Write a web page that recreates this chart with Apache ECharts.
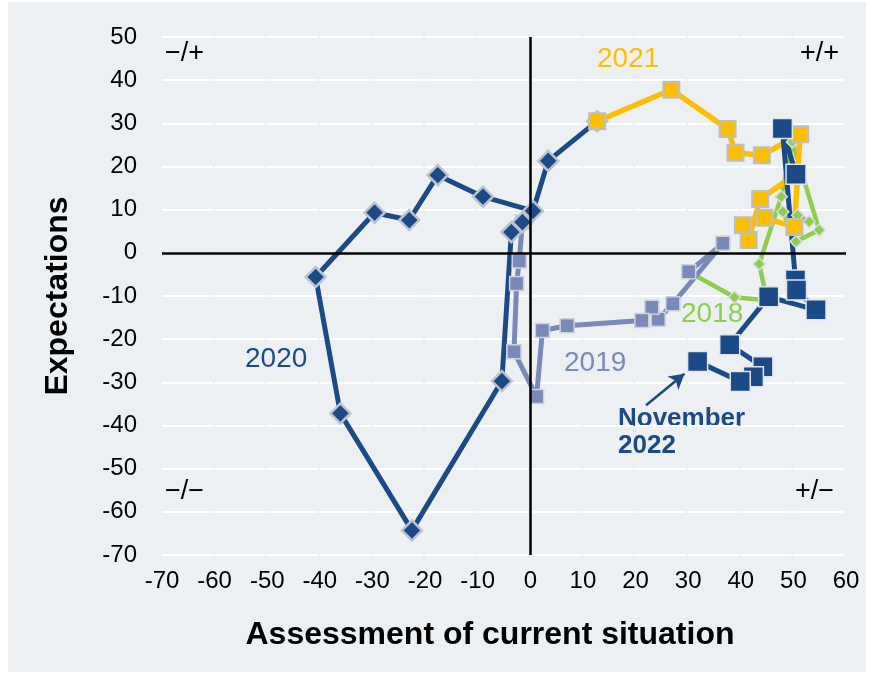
<!DOCTYPE html>
<html><head><meta charset="utf-8">
<script src="https://cdn.jsdelivr.net/npm/echarts@6/dist/echarts.min.js"></script>
<style>
html,body{margin:0;padding:0;background:#ffffff;}
#bg{position:absolute;left:8px;top:2px;width:858px;height:670px;background:#edf0f3;}
#c{position:absolute;left:0;top:0;width:873px;height:677px;}
</style>
</head><body><div id="bg"></div><div id="c"></div>
<script>
// Axis ranges / ticks
const xMin = -70, xMax = 60, xStep = 10;
const yMin = -70, yMax = 50, yStep = 10;

// [assessment of current situation, expectations]
const s2018 = [[53.0,7.2],[50.8,8.7],[48.0,9.5],[50.5,2.6],[54.9,5.3],[49.8,25.7],[47.7,13.0],[43.5,-2.6],[45.0,-11.0],[38.8,-10.3],[30.1,-4.4]];
const s2019 = [[30.1,-4.4],[36.6,2.2],[27.1,-11.8],[24.3,-15.4],[23.1,-12.6],[21.2,-15.7],[7.0,-16.9],[2.3,-18.0],[1.2,-33.3],[-3.1,-22.9],[-2.6,-7.1],[-2.1,-1.9],[-1.5,7.1]];
const s2020 = [[-1.5,7.1],[-3.6,4.8],[-5.4,-29.7],[-22.5,-64.3],[-36.1,-37.2],[-40.8,-5.6],[-29.6,9.3],[-23.0,7.6],[-17.6,18.0],[-9.0,13.0],[0.5,9.7],[3.4,21.3],[12.7,30.5]];
const s2021 = [[12.7,30.5],[26.8,37.8],[37.5,28.7],[39.0,23.2],[44.0,22.6],[51.3,27.5],[50.2,6.0],[44.5,8.1],[40.4,6.4],[41.5,3.0],[43.7,12.5],[50.5,18.2]];
const s2022 = [[50.5,18.2],[47.9,28.8],[50.4,-6.3],[50.6,-8.6],[54.3,-13.2],[45.3,-10.2],[37.9,-21.3],[44.2,-26.4],[42.4,-28.7],[39.9,-29.8],[31.8,-25.2]];
// Arrow pointing to November 2022 (data coordinates)
const arrowFrom = [22.0,-35.3], arrowTo = [29.3,-28.0];

const FONT = '"Liberation Sans", Arial, sans-serif';
const DARK = '#1b4a87', YEL = '#fcbf00', PUR = '#7b89b9', GRN = '#8fcd4c';

const chart = echarts.init(document.getElementById('c'), null, {renderer:'canvas'});

function lineSeries(name, data, color, width, symbol, size, border, bw){
  return {
    name, type:'line', data, animation:false,
    symbol, symbolSize:size,
    lineStyle:{color, width},
    itemStyle:{color, borderColor:border, borderWidth:bw},
    emphasis:{disabled:true}
  };
}

chart.setOption({
  animation:false,
  backgroundColor:'transparent',
  textStyle:{fontFamily:FONT},
  grid:{left:162, top:37, width:684, height:518},
  xAxis:{
    type:'value', min:xMin, max:xMax, interval:xStep,
    axisLine:{show:false}, axisTick:{show:false}, splitLine:{show:false},
    axisLabel:{color:'#000', fontSize:24, fontFamily:FONT, margin:14},
    name:'Assessment of current situation', nameLocation:'middle', nameGap:64,
    nameTextStyle:{color:'#000', fontSize:32, fontWeight:'bold', fontFamily:FONT, padding:[0,28,0,0]}
  },
  yAxis:{
    type:'value', min:yMin, max:yMax, interval:yStep,
    axisLine:{show:false}, axisTick:{show:false},
    splitLine:{show:true, lineStyle:{color:'#ffffff', width:2, type:[50.6,2.0]}},
    axisLabel:{color:'#000', fontSize:24, fontFamily:FONT, margin:25},
    name:'Expectations', nameLocation:'middle', nameGap:88, nameRotate:90,
    nameTextStyle:{color:'#000', fontSize:32, fontWeight:'bold', fontFamily:FONT}
  },
  series:[
    {type:'line', data:[], silent:true,
     markLine:{silent:true, symbol:['none','none'], animation:false,
       label:{show:false},
       lineStyle:{color:'#000', width:2.5, type:'solid'},
       emphasis:{disabled:true},
       data:[{xAxis:0},{yAxis:0}]}},
    lineSeries('2018', s2018, GRN, 4.5, 'diamond', 12, '#d5dbe3', 1.5),
    lineSeries('2019', s2019, PUR, 5, 'rect', 14, '#cdd3de', 1.5),
    lineSeries('2020', s2020, DARK, 5, 'diamond', 20, '#bcc3cf', 2.5),
    lineSeries('2021', s2021, YEL, 5.5, 'rect', 16, '#b9c0cd', 2),
    Object.assign(lineSeries('2022', s2022, DARK, 5, 'rect', 20, '#dfe5ec', 1.5), {
      markLine:{silent:true, animation:false, symbol:['none','arrow'], symbolSize:[13,15],
        label:{show:false}, lineStyle:{color:DARK, width:2.5, type:'solid'},
        emphasis:{disabled:true},
        data:[[{coord:arrowFrom},{coord:arrowTo}]]}
    })
  ],
  graphic:[
    {type:'text', left:165, top:40, style:{text:'\u2212/+', font:'27px '+FONT, fill:'#000'}},
    {type:'text', left:800, top:40, style:{text:'+/+', font:'27px '+FONT, fill:'#000'}},
    {type:'text', left:165, top:478, style:{text:'\u2212/\u2212', font:'27px '+FONT, fill:'#000'}},
    {type:'text', left:795, top:478, style:{text:'+/\u2212', font:'27px '+FONT, fill:'#000'}},
    {type:'text', left:597, top:45, style:{text:'2021', font:'28px '+FONT, fill:YEL}},
    {type:'text', left:245, top:345, style:{text:'2020', font:'28px '+FONT, fill:DARK}},
    {type:'text', left:564, top:349, style:{text:'2019', font:'28px '+FONT, fill:PUR}},
    {type:'text', left:681, top:300, style:{text:'2018', font:'28px '+FONT, fill:GRN}},
    {type:'text', left:618, top:405, style:{text:'November\n2022', font:'bold 26px '+FONT, fill:DARK, lineHeight:27}}
  ]
});
</script></body></html>
